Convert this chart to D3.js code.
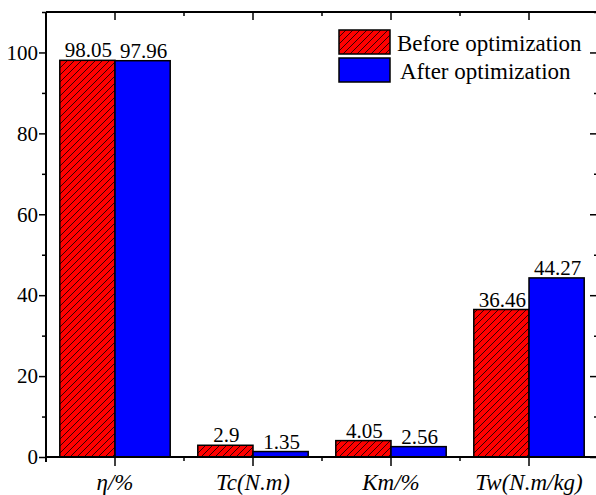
<!DOCTYPE html>
<html>
<head>
<meta charset="utf-8">
<script src="https://cdn.jsdelivr.net/npm/d3@7"></script>
<style>
  html, body { margin: 0; padding: 0; background: #fff; }
  svg { display: block; font-family: "Liberation Serif", "Times New Roman", serif; }
  svg text { font-family: "Liberation Serif", "Times New Roman", serif; }
</style>
</head>
<body>
<div id="chart"></div>
<script>
  var categories = ['η/%', 'Tc(N.m)', 'Km/%', 'Tw(N.m/kg)'];
  var series = ['Before optimization', 'After optimization'];
  var beforeValues = [98.05, 2.9, 4.05, 36.46];
  var afterValues = [97.96, 1.35, 2.56, 44.27];
  var yMajorTicks = [0, 20, 40, 60, 80, 100];
  var yMinorTicks = [10, 30, 50, 70, 90, 110];

  var W = 596, H = 495;
  var margin = { left: 46, top: 12, right: -2, bottom: 38 };
  var innerW = W - margin.left - margin.right;
  var innerH = H - margin.top - margin.bottom;
  var FONT = '"Liberation Serif", "Times New Roman", serif';

  var svg = d3.select('#chart').append('svg').attr('width', W).attr('height', H);

  var defs = svg.append('defs');
  var pat = defs.append('pattern')
    .attr('id', 'hatch')
    .attr('patternUnits', 'userSpaceOnUse')
    .attr('width', 7).attr('height', 7);
  pat.append('rect').attr('width', 7).attr('height', 7).attr('fill', '#ff0000');
  pat.append('path')
    .attr('d', 'M-1,8 L8,-1 M-4,4 L4,-4 M3,11 L11,3')
    .attr('stroke', '#000').attr('stroke-width', 0.8);

  var g = svg.append('g').attr('transform', 'translate(' + margin.left + ',' + margin.top + ')');

  var x = d3.scaleBand().domain(categories).range([0, innerW]).paddingInner(0).paddingOuter(0);
  var xInner = d3.scaleBand().domain(series).range([0, x.bandwidth()]).paddingInner(0).paddingOuter(0.25);
  var y = d3.scaleLinear().domain([0, 110]).range([innerH, 0]);

  var data = categories.map(function (c, i) {
    return { cat: c, vals: [
      { s: series[0], v: beforeValues[i] },
      { s: series[1], v: afterValues[i] }
    ] };
  });

  var fills = { 'Before optimization': 'url(#hatch)', 'After optimization': '#0000ff' };

  var groups = g.selectAll('.grp').data(data).join('g')
    .attr('class', 'grp')
    .attr('transform', function (d) { return 'translate(' + x(d.cat) + ',0)'; });

  groups.selectAll('rect').data(function (d) { return d.vals; }).join('rect')
    .attr('x', function (d) { return xInner(d.s); })
    .attr('y', function (d) { return y(d.v); })
    .attr('width', xInner.bandwidth())
    .attr('height', function (d) { return innerH - y(d.v); })
    .attr('fill', function (d) { return fills[d.s]; })
    .attr('stroke', '#000')
    .attr('stroke-width', 1.5);

  groups.selectAll('text.val').data(function (d) { return d.vals; }).join('text')
    .attr('class', 'val')
    .attr('x', function (d) { return xInner(d.s) + xInner.bandwidth() / 2 + 1; })
    .attr('y', function (d) { return y(d.v) - 3; })
    .attr('text-anchor', 'middle')
    .attr('font-size', '21px')
    .attr('fill', '#000')
    .text(function (d) { return d.v; });

  function styleTicks(s) {
    s.select('.domain').remove();
    s.selectAll('line').attr('stroke-width', 1.5);
  }

  // left axis
  var yAxis = g.append('g');
  yAxis.call(d3.axisLeft(y).tickValues(yMajorTicks).tickSize(7).tickPadding(1));
  yAxis.attr('font-family', FONT).attr('font-size', 21);
  yAxis.selectAll('text').attr('fill', '#000');
  styleTicks(yAxis);
  g.append('g').call(d3.axisLeft(y).tickValues(yMinorTicks).tickSize(4).tickFormat('')).call(styleTicks);

  // right axis ticks (inward)
  g.append('g').attr('transform', 'translate(' + innerW + ',0)')
    .call(d3.axisRight(y).tickValues(yMajorTicks).tickSize(-8).tickFormat('')).call(styleTicks);
  g.append('g').attr('transform', 'translate(' + innerW + ',0)')
    .call(d3.axisRight(y).tickValues(yMinorTicks).tickSize(-4).tickFormat('')).call(styleTicks);

  // bottom axis
  var minorX = [0, x.bandwidth(), 2 * x.bandwidth(), 3 * x.bandwidth()];
  var xAxis = g.append('g').attr('transform', 'translate(0,' + innerH + ')');
  xAxis.call(d3.axisBottom(x).tickSize(9).tickPadding(8));
  xAxis.attr('font-family', FONT).attr('font-size', 23);
  xAxis.selectAll('text').attr('font-style', 'italic').attr('fill', '#000');
  styleTicks(xAxis);
  xAxis.selectAll('.minor').data(minorX).join('line')
    .attr('class', 'minor')
    .attr('x1', function (d) { return d; }).attr('x2', function (d) { return d; })
    .attr('y1', 0).attr('y2', 4)
    .attr('stroke', '#000').attr('stroke-width', 1.5);

  // top axis ticks (inward)
  var topAxis = g.append('g');
  topAxis.call(d3.axisTop(x).tickSize(-8).tickFormat('')).call(styleTicks);
  topAxis.selectAll('.minor').data(minorX).join('line')
    .attr('class', 'minor')
    .attr('x1', function (d) { return d; }).attr('x2', function (d) { return d; })
    .attr('y1', 0).attr('y2', 4)
    .attr('stroke', '#000').attr('stroke-width', 1.5);

  // frame
  g.append('line').attr('x1', 0).attr('x2', 0).attr('y1', 0).attr('y2', innerH + 5)
    .attr('stroke', '#000').attr('stroke-width', 2);
  g.append('line').attr('x1', 0).attr('x2', innerW).attr('y1', innerH).attr('y2', innerH)
    .attr('stroke', '#000').attr('stroke-width', 2);
  g.append('line').attr('x1', 0).attr('x2', innerW).attr('y1', 0).attr('y2', 0)
    .attr('stroke', '#000').attr('stroke-width', 2);
  g.append('line').attr('x1', innerW).attr('x2', innerW).attr('y1', 0).attr('y2', innerH)
    .attr('stroke', '#000').attr('stroke-width', 2);

  // legend
  var legend = svg.append('g').attr('transform', 'translate(339,30)');
  var li = legend.selectAll('g').data(series).join('g')
    .attr('transform', function (d, i) { return 'translate(0,' + (i * 28) + ')'; });
  li.append('rect')
    .attr('width', 51).attr('height', 24)
    .attr('fill', function (d) { return fills[d]; })
    .attr('stroke', '#000').attr('stroke-width', 1.5);
  li.append('text')
    .attr('x', function (d, i) { return i === 0 ? 58 : 61; })
    .attr('y', 21)
    .attr('font-size', '23px')
    .attr('fill', '#000')
    .text(function (d) { return d; });
</script>
</body>
</html>
